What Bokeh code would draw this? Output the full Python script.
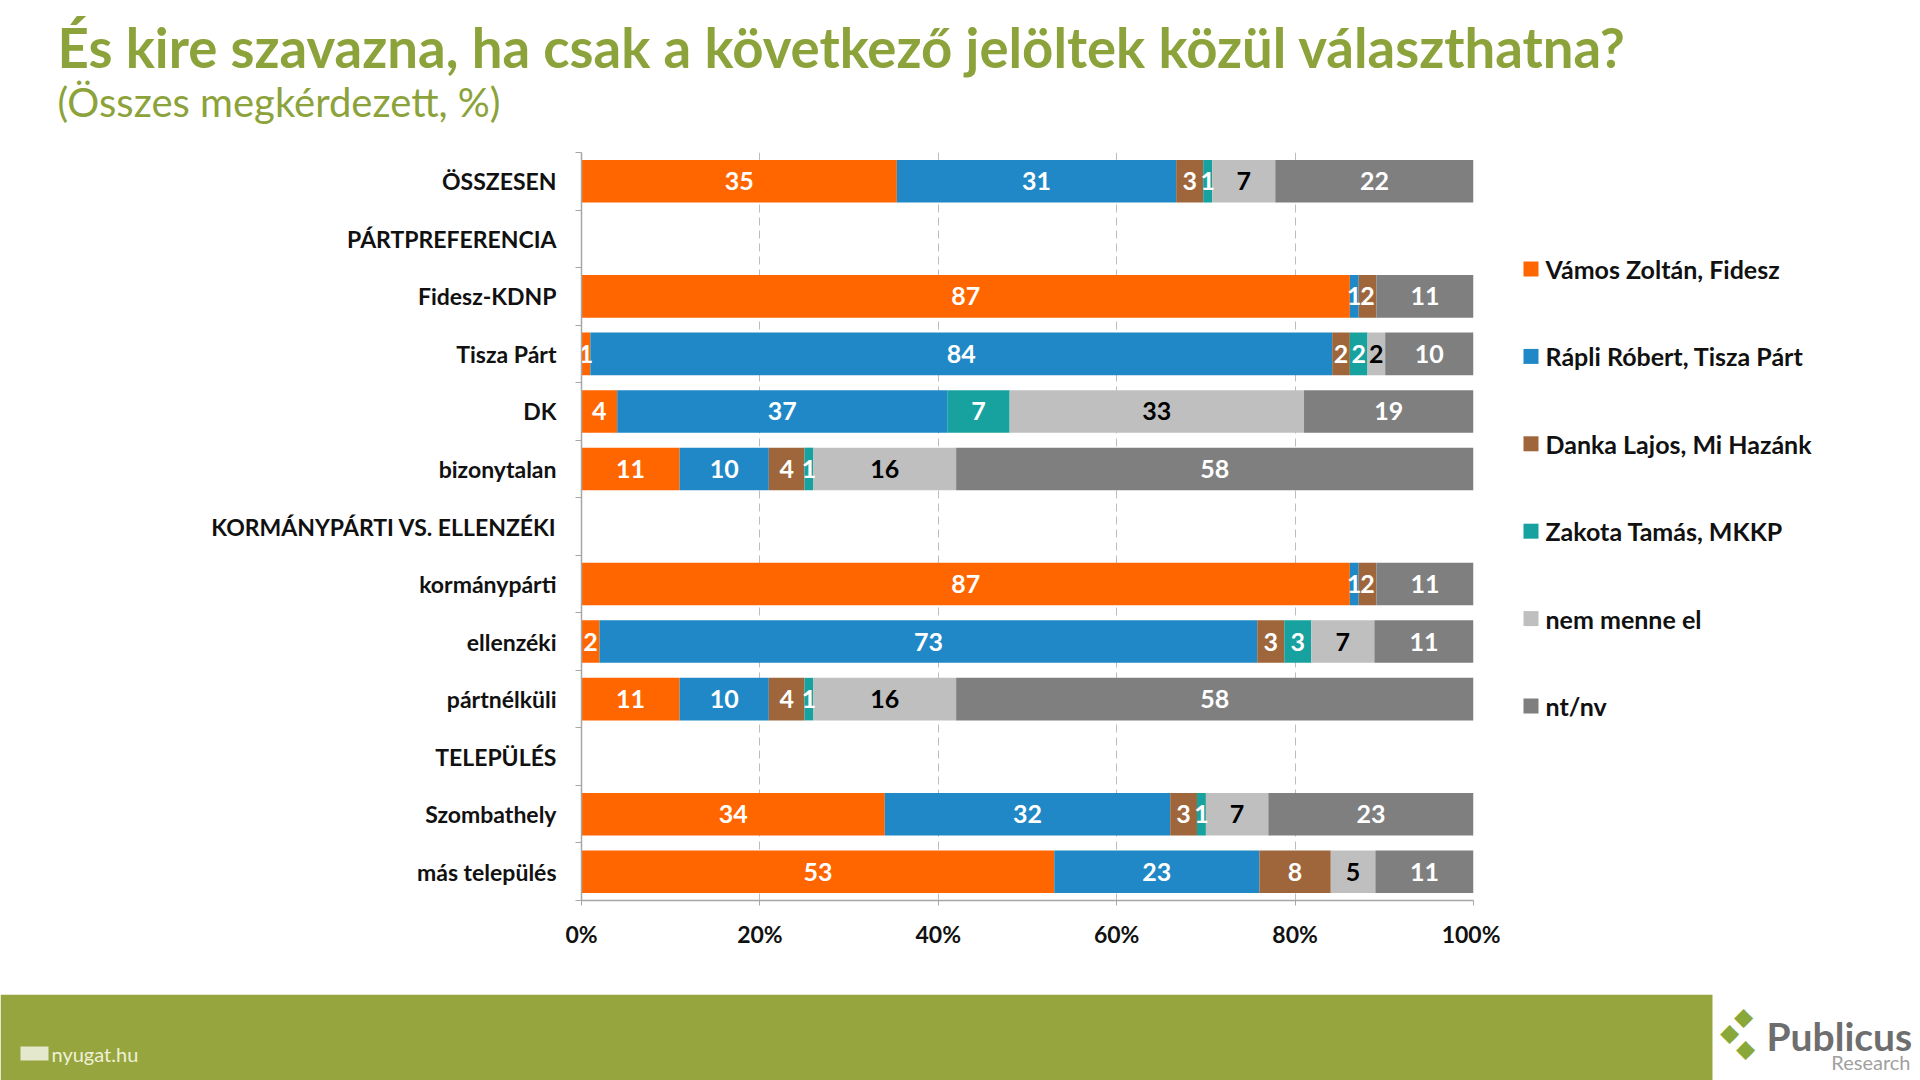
from bokeh.plotting import figure
from bokeh.layouts import column, row
from bokeh.models import Range1d, FixedTicker, ColumnDataSource
from bokeh.core.properties import value
from bokeh.embed import file_html
from bokeh.resources import INLINE

# ---------------- data ----------------
categories = ["ÖSSZESEN", "PÁRTPREFERENCIA", "Fidesz-KDNP", "Tisza Párt", "DK",
              "bizonytalan", "KORMÁNYPÁRTI VS. ELLENZÉKI", "kormánypárti",
              "ellenzéki", "pártnélküli", "TELEPÜLÉS", "Szombathely",
              "más település"]
series_names = ["Vámos Zoltán, Fidesz", "Rápli Róbert, Tisza Párt",
                "Danka Lajos, Mi Hazánk", "Zakota Tamás, MKKP",
                "nem menne el", "nt/nv"]
vamos     = [35, 0, 87, 1, 4, 11, 0, 87, 2, 11, 0, 34, 53]
rapli     = [31, 0, 1, 84, 37, 10, 0, 1, 73, 10, 0, 32, 23]
danka     = [3, 0, 2, 2, 0, 4, 0, 2, 3, 4, 0, 3, 8]
zakota    = [1, 0, 0, 2, 7, 1, 0, 0, 3, 1, 0, 1, 0]
nem_menne = [7, 0, 0, 2, 33, 16, 0, 0, 7, 16, 0, 7, 5]
ntnv      = [22, 0, 11, 10, 19, 58, 0, 11, 11, 58, 0, 23, 11]
x_ticks = [0, 20, 40, 60, 80, 100]
x_tick_labels = ["0%", "20%", "40%", "60%", "80%", "100%"]
title_text = "És kire szavazna, ha csak a következő jelöltek közül választhatna?"
subtitle_text = "(Összes megkérdezett, %)"

series_values = [vamos, rapli, danka, zakota, nem_menne, ntnv]
colors = ["#FF6600", "#2088C6", "#9E663A", "#17A2A0", "#BFBFBF", "#7F7F7F"]
label_colors = ["white", "white", "white", "white", "black", "white"]
title_color = "#8CA23A"
FONT = "Lato"

W = 1920
HEADER_H, CHART_H, FOOTER_H = 152, 842, 86
CHART_W = 1500
FL, FR = 581, 1473          # frame left/right on page
FRAME_H = 748
BOTTOM_B = CHART_H - FRAME_H


def deco_fig(w, h, y_top=0, y_bottom=None, bottom_border=0):
    if y_bottom is None:
        y_bottom = h
    f = figure(width=w, height=h, output_backend="svg", toolbar_location=None,
               x_range=Range1d(0, w), y_range=Range1d(y_bottom, y_top),
               x_axis_type=None, y_axis_type=None, min_border=0)
    f.min_border_bottom = bottom_border
    f.outline_line_color = None
    f.grid.grid_line_color = None
    f.background_fill_color = "white"
    f.border_fill_color = "white"
    return f


# ---------------- header ----------------
head = deco_fig(W, HEADER_H)
head.text(x=[57], y=[46], text=[title_text], text_font=value(FONT),
          text_font_style="bold", text_font_size="54.5px", text_color=title_color,
          text_baseline="middle")
head.text(x=[57], y=[101], text=[subtitle_text], text_font=value(FONT),
          text_font_size="40px", text_color=title_color, text_baseline="middle")

# ---------------- chart ----------------
n = len(categories)
p = figure(width=CHART_W, height=CHART_H, output_backend="svg", toolbar_location=None,
           x_range=Range1d(0, 100), y_range=Range1d(n - 0.5, -0.5),
           min_border_left=FL, min_border_right=CHART_W - FR,
           min_border_top=0, min_border_bottom=BOTTOM_B,
           background_fill_color="white", border_fill_color="white")
p.outline_line_color = None

totals = [sum(s[i] for s in series_values) for i in range(n)]
cum = [0.0] * n
lab_x, lab_y, lab_t, lab_c = [], [], [], []
for si, vals in enumerate(series_values):
    ys, lefts, rights = [], [], []
    for i in range(n):
        if totals[i] == 0 or vals[i] == 0:
            continue
        l = cum[i]
        r = l + vals[i] / totals[i] * 100.0
        cum[i] = r
        ys.append(i); lefts.append(l); rights.append(r)
        lab_x.append((l + r) / 2); lab_y.append(i)
        lab_t.append(str(vals[i])); lab_c.append(label_colors[si])
    src = ColumnDataSource(dict(y=ys, left=lefts, right=rights))
    p.hbar(y="y", left="left", right="right", height=0.74, source=src,
           fill_color=colors[si], line_color=None)

lsrc = ColumnDataSource(dict(x=lab_x, y=lab_y, t=lab_t, c=lab_c))
p.text(x="x", y="y", text="t", source=lsrc, text_color="c",
       text_align="center", text_baseline="middle",
       text_font=value(FONT), text_font_style="bold", text_font_size="25px")

p.xaxis.ticker = FixedTicker(ticks=x_ticks)
p.xaxis.major_label_overrides = {t: l for t, l in zip(x_ticks, x_tick_labels)}
p.xaxis.major_label_text_font = FONT
p.xaxis.major_label_text_font_style = "bold"
p.xaxis.major_label_text_font_size = "23px"
p.xaxis.major_label_text_color = "#111111"
p.xaxis.axis_line_color = "#A6A6A6"
p.xaxis.axis_line_width = 1.5
p.xaxis.major_tick_line_color = "#A6A6A6"
p.xaxis.major_tick_out = 5
p.xaxis.major_tick_in = 0
p.xaxis.minor_tick_line_color = None
p.xaxis.major_label_standoff = 14

rows = list(range(n))
p.yaxis.ticker = FixedTicker(ticks=rows, minor_ticks=[i - 0.5 for i in range(n + 1)])
p.yaxis.major_label_overrides = {i: c for i, c in zip(rows, categories)}
p.yaxis.major_label_text_font = FONT
p.yaxis.major_label_text_font_style = "bold"
p.yaxis.major_label_text_font_size = "23px"
p.yaxis.major_label_text_color = "#111111"
p.yaxis.axis_line_color = "#A6A6A6"
p.yaxis.axis_line_width = 1.5
p.yaxis.major_tick_line_color = None
p.yaxis.major_tick_out = 0
p.yaxis.minor_tick_line_color = "#A6A6A6"
p.yaxis.minor_tick_out = 6
p.yaxis.minor_tick_in = 0
p.yaxis.major_label_standoff = 19

p.xgrid.ticker = FixedTicker(ticks=x_ticks)
p.xgrid.grid_line_color = "#BDBDBD"
p.xgrid.grid_line_dash = "8 5"
p.xgrid.grid_line_width = 1
p.ygrid.grid_line_color = None

# ---------------- legend (separate panel to the right, frame aligned) ----------------
LEG_W = W - CHART_W
leg = deco_fig(LEG_W, CHART_H, y_top=0, y_bottom=FRAME_H, bottom_border=BOTTOM_B)
leg_x0 = 1523 - CHART_W
leg_y0 = 268.5 - HEADER_H
leg_dy = 87.4
ly = [leg_y0 + i * leg_dy for i in range(len(series_names))]
leg.rect(x=[leg_x0 + 7.5] * len(series_names), y=ly, width=15, height=15,
         fill_color=colors, line_color=None)
leg.text(x=[leg_x0 + 22] * len(series_names), y=ly, text=series_names,
         text_font=value(FONT), text_font_style="bold", text_font_size="25px",
         text_color="#111111", text_baseline="middle")

# ---------------- footer ----------------
foot = deco_fig(W, FOOTER_H)
foot.quad(left=[0], right=[1712], top=[0], bottom=[FOOTER_H],
          fill_color="#97A53E", line_color=None)
foot.quad(left=[20], right=[48], top=[52], bottom=[66],
          fill_color="#E4E8CC", line_color=None)
foot.text(x=[51], y=[59], text=["nyugat.hu"], text_font=value(FONT),
          text_font_size="20px", text_color="#EEF1D8", text_baseline="middle")
foot.text(x=[1743, 1729, 1745], y=[22, 38, 54], text=["◆", "◆", "◆"],
          text_font=value("DejaVu Sans"), text_font_size="25px",
          text_color="#8AA83A", text_align="center", text_baseline="middle")
foot.text(x=[1766], y=[41], text=["Publicus"], text_font=value(FONT),
          text_font_style="bold", text_font_size="39px", text_color="#6E6E6E",
          text_baseline="middle")
foot.text(x=[1910], y=[67], text=["Research"], text_font=value(FONT),
          text_font_size="20px", text_color="#A0A0A0", text_align="right",
          text_baseline="middle")

layout = column(head, row(p, leg, spacing=0), foot, spacing=0)
open("out.html", "w").write(file_html(layout, INLINE))
